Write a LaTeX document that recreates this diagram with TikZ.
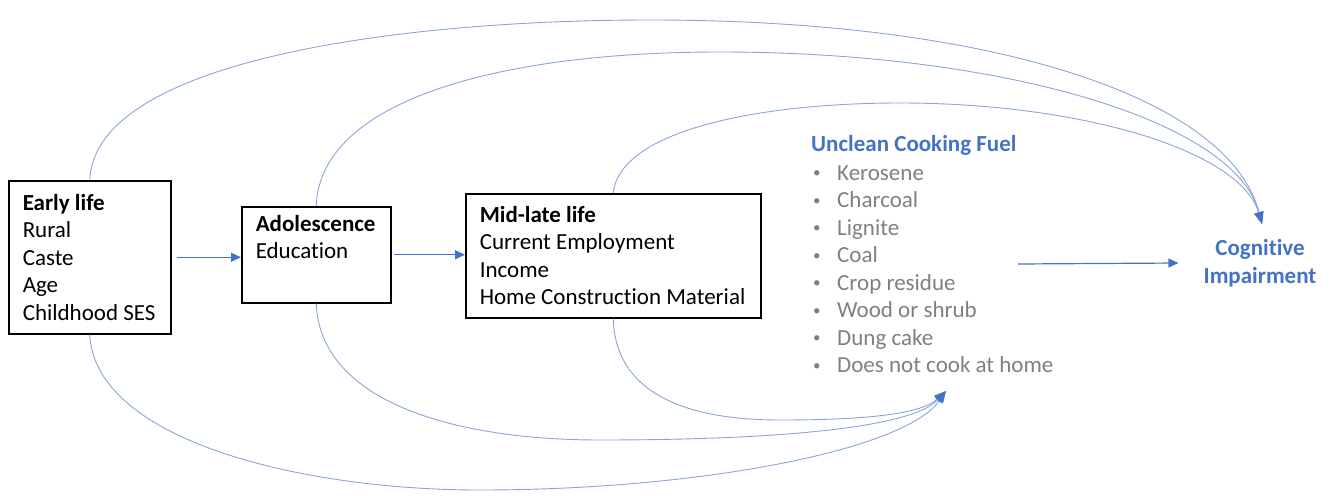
\documentclass[tikz,border=0pt]{standalone}
\usepackage{fontspec}
\setmainfont{Carlito}[Ligatures=NoCommon]
\usetikzlibrary{arrows.meta}
\definecolor{cblue}{HTML}{4472C4}
\definecolor{lblue}{HTML}{8AA5DA}
\definecolor{tgray}{HTML}{808080}
\newcommand{\fitem}[1]{\textcolor{tgray}{\makebox[26pt][l]{\hspace{2pt}\raisebox{2.5pt}{\fontsize{15}{15}\selectfont\textbullet}}#1}}
\newcommand{\nsp}{\spaceskip=0pt\xspaceskip=0pt\hyphenpenalty=10000 }
\begin{document}
\begin{tikzpicture}[x=1pt,y=-1pt,
  every node/.style={font=\fontsize{23}{27.5}\selectfont},
  stage/.style={draw=black, line width=1.5pt, inner xsep=14pt, inner ysep=0pt, align=left, anchor=north west},
  arr/.style={draw=cblue, line width=1.2pt, -{Triangle[length=10pt,width=9pt]}},
  curve/.style={draw=lblue, line width=0.9pt, -{Triangle[length=12pt,width=9pt,color=cblue]}}]
\useasboundingbox (0,0) rectangle (1335,495);

\node[stage, text width=134pt, minimum height=153pt] (early) at (8,180)
  {\nsp\textbf{Early life}\\Rural\\Caste\\Age\\Childhood~SES};
\node[stage, text width=121pt, minimum height=96pt] (ado) at (241,206)
  {\nsp\textbf{Adolescence}\\Education\\\strut};
\node[stage, text width=267pt, minimum height=124pt] (mid) at (465,193)
  {\nsp\textbf{Mid-late life}\\Current~Employment\\Income\\Home~Construction~Material};

\node[anchor=west, align=left, inner sep=0pt, font=\fontsize{23}{27.5}\selectfont] (fuel) at (811,254)
  {\textcolor{cblue}{\textbf{Unclean Cooking Fuel}}\\[1.5pt]
   \fitem{Kerosene}\\ \fitem{Charcoal}\\ \fitem{Lignite}\\ \fitem{Coal}\\
   \fitem{Crop residue}\\ \fitem{Wood or shrub}\\ \fitem{Dung cake}\\ \fitem{Does not cook at home}};

\node[align=center, text=cblue, font=\bfseries\fontsize{23}{28}\selectfont, inner sep=0pt] (cog) at (1260,263)
  {Cognitive\\Impairment};

\coordinate (citop) at (1262,224);
\coordinate (fueltip) at (946,391);
\coordinate (fuelout) at (1018,264);

\draw[arr, shorten <=5pt] (early.east) -- (early.east -| ado.west);
\draw[arr, shorten <=2pt] (ado.east) -- (ado.east -| mid.west);
\draw[arr] (fuelout) -- ([xshift=-25pt]cog.west);

\draw[curve] (early.north) .. controls (95,60) and (400,20) .. (650,20) .. controls (1000,20) and (1230,100) .. (citop);
\draw[curve] (ado.north) .. controls (320,100) and (500,52) .. (720,52) .. controls (1000,52) and (1235,120) .. (citop);
\draw[curve] (mid.north) .. controls (620,130) and (760,103) .. (900,103) .. controls (1080,103) and (1240,150) .. (citop);

\draw[curve] (early.south) .. controls (95,440) and (300,490) .. (480,490) .. controls (700,490) and (905,450) .. (fueltip);
\draw[curve] (ado.south) .. controls (320,400) and (450,440) .. (600,440) .. controls (760,440) and (910,430) .. (fueltip);
\draw[curve] (mid.south) .. controls (615,390) and (680,420) .. (780,420) .. controls (860,420) and (920,415) .. (fueltip);
\end{tikzpicture}
\end{document}
